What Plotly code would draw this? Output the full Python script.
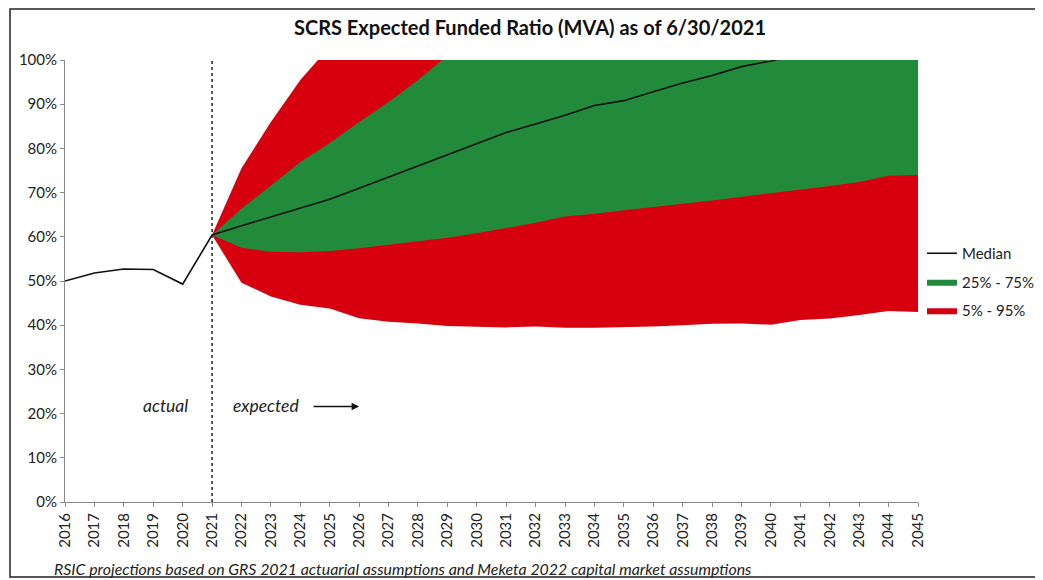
import plotly.graph_objects as go

# ---- data ----
years_actual = [2016, 2017, 2018, 2019, 2020, 2021]
actual = [50.0, 51.8, 52.7, 52.6, 49.3, 60.4]

years_proj = list(range(2021, 2046))
median = [60.4, 62.5, 64.5, 66.5, 68.5, 71.0, 73.5, 76.0, 78.5, 81.0, 83.6,
          85.5, 87.5, 89.7, 90.8, 92.8, 94.8, 96.5, 98.5, 99.8, 101.5, 103.0,
          104.5, 106.0, 107.5]
p75 = [60.4, 66.4, 71.6, 76.9, 81.2, 86.0, 90.5, 95.5, 101.0, 104.0, 107.0,
       110.0, 113.0, 116.0, 119.0, 122.0, 125.0, 128.0, 131.0, 134.0, 137.0,
       140.0, 143.0, 146.0, 149.0]
p25 = [60.4, 57.5, 56.6, 56.5, 56.8, 57.4, 58.2, 59.0, 59.8, 60.8, 62.0,
       63.2, 64.6, 65.2, 66.0, 66.8, 67.5, 68.2, 69.0, 69.8, 70.6, 71.5,
       72.4, 73.8, 74.0]
p95 = [60.4, 75.5, 86.0, 95.5, 103.0, 110.0, 118.0, 126.0, 134.0, 142.0, 150.0,
       158.0, 166.0, 174.0, 182.0, 190.0, 198.0, 206.0, 214.0, 222.0, 230.0,
       238.0, 246.0, 254.0, 262.0]
p5 = [60.4, 49.6, 46.5, 44.6, 43.8, 41.6, 40.8, 40.4, 39.8, 39.6, 39.5,
      39.7, 39.4, 39.4, 39.5, 39.7, 40.0, 40.3, 40.4, 40.1, 41.2, 41.5,
      42.3, 43.2, 43.0]

x_ticks = list(range(2016, 2046))
y_ticks = list(range(0, 101, 10))
y_labels = [f"{v}%" for v in y_ticks]

title_text = "SCRS Expected Funded Ratio (MVA) as of 6/30/2021"
footer_text = ("RSIC projections based on GRS 2021 actuarial assumptions and "
               "Meketa 2022 capital market assumptions")

RED = "#d7000f"
GREEN = "#228b3b"
FONT = "Lato"

# page body has an 8px margin; figure sized to fit the window
OFF = 8
W, H = 1043 - OFF, 580 - OFF
# target plot area in screen pixels: x 65..918, y 60..502
ML = 65 - OFF
MT = 60 - OFF
MR = W - (918 - OFF)
MB = H - (502 - OFF)
PW, PH = W - ML - MR, H - MT - MB


def px(xpix):
    return (xpix - OFF - ML) / PW


def py(ypix):
    return (H - MB - (ypix - OFF)) / PH


fig = go.Figure()

# 5%-95% band
fig.add_trace(go.Scatter(x=years_proj, y=p5, mode="lines",
                         line=dict(width=0, color=RED), showlegend=False,
                         hoverinfo="skip"))
fig.add_trace(go.Scatter(x=years_proj, y=p95, mode="lines", fill="tonexty",
                         fillcolor=RED, line=dict(width=0, color=RED),
                         name="5% - 95%", legendrank=3, legendgroup="c"))
# 25%-75% band
fig.add_trace(go.Scatter(x=years_proj, y=p25, mode="lines",
                         line=dict(width=0, color=GREEN), showlegend=False,
                         hoverinfo="skip"))
fig.add_trace(go.Scatter(x=years_proj, y=p75, mode="lines", fill="tonexty",
                         fillcolor=GREEN, line=dict(width=0, color=GREEN),
                         name="25% - 75%", legendrank=2, legendgroup="b"))
# Median line (actual history + projected median)
fig.add_trace(go.Scatter(x=years_actual + years_proj[1:],
                         y=actual + median[1:], mode="lines",
                         line=dict(color="#111111", width=1.6),
                         name="Median", legendrank=1, legendgroup="a"))

TICKFONT = dict(family=FONT, size=15, color="#222")

fig.update_layout(
    width=W, height=H,
    margin=dict(l=ML, r=MR, t=MT, b=MB, autoexpand=False),
    paper_bgcolor="white", plot_bgcolor="white",
    font=dict(family=FONT, size=15, color="#222"),
    title=dict(text=f"<b>{title_text}</b>", x=px(530), xanchor="center",
               xref="paper", y=1 - (28 - OFF) / H, yanchor="middle",
               font=dict(family=FONT, size=20, color="#111")),
    showlegend=True,
    legend=dict(x=px(922), y=py(237), xanchor="left", yanchor="top",
                traceorder="grouped", tracegroupgap=6, itemwidth=30,
                font=dict(family=FONT, size=15, color="#222"),
                bgcolor="rgba(0,0,0,0)"),
    xaxis=dict(range=[2016, 2045], tickmode="array", tickvals=x_ticks,
               ticktext=[str(v) for v in x_ticks], tickangle=-90,
               showgrid=False, zeroline=False, showline=True,
               linecolor="#8a8a8a", linewidth=1, ticks="outside",
               ticklen=4, tickcolor="#8a8a8a", tickfont=TICKFONT),
    yaxis=dict(range=[0, 100], tickmode="array", tickvals=y_ticks,
               ticktext=y_labels, showgrid=False, zeroline=False,
               showline=True, linecolor="#8a8a8a", linewidth=1,
               ticks="outside", ticklen=4, tickcolor="#8a8a8a",
               tickfont=TICKFONT),
)

# dotted separator at 2021
fig.add_shape(type="line", xref="x", yref="y", x0=2021, x1=2021, y0=0, y1=100,
              line=dict(color="#222", width=1.5, dash="dot"), layer="above")

# outer frame
fig.add_shape(type="rect", xref="paper", yref="paper",
              x0=px(10), x1=px(1039), y0=py(577), y1=py(9),
              line=dict(color="#222", width=1.5), fillcolor="rgba(0,0,0,0)")

# text annotations
fig.add_annotation(x=2019.4, y=21.8, xref="x", yref="y", text="<i>actual</i>",
                   showarrow=False, font=dict(family=FONT, size=17.5, color="#222"))
fig.add_annotation(x=2022.85, y=21.8, xref="x", yref="y", text="<i>expected</i>",
                   showarrow=False, font=dict(family=FONT, size=17.5, color="#222"))
fig.add_annotation(x=2026.0, y=21.6, ax=2024.4, ay=21.6, xref="x", yref="y",
                   axref="x", ayref="y", text="", showarrow=True,
                   arrowhead=2, arrowsize=1, arrowwidth=1.5, arrowcolor="#111")
fig.add_annotation(x=px(52), y=py(568), xref="paper", yref="paper",
                   xanchor="left", yanchor="middle",
                   text=f"<i>{footer_text}</i>", showarrow=False,
                   font=dict(family=FONT, size=15.9, color="#222"))

fig.write_html("out.html")
